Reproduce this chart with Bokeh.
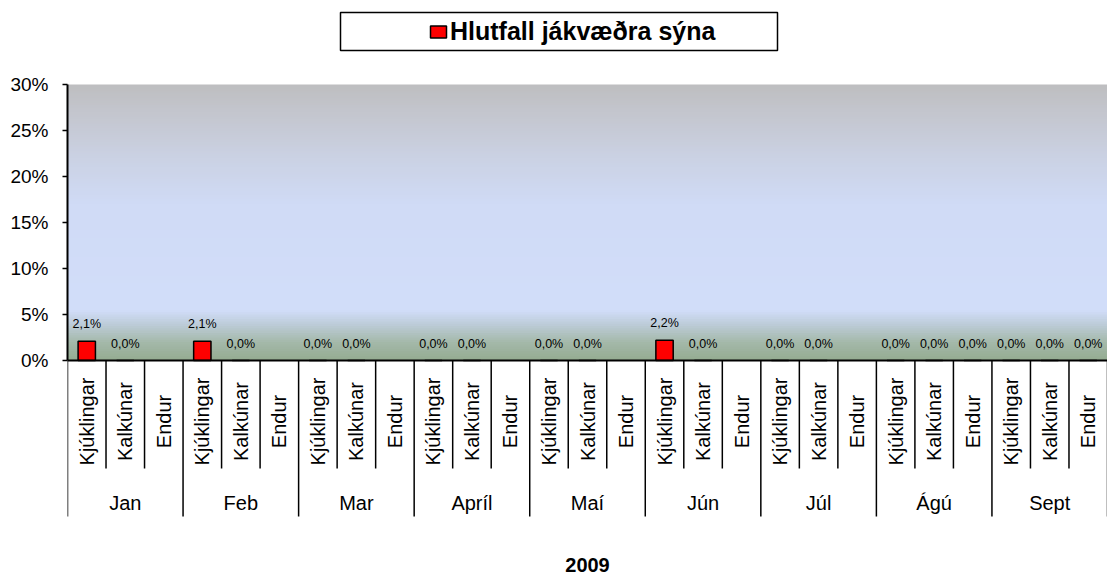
import numpy as np
from bokeh.plotting import figure
from bokeh.models import (ColumnDataSource, FixedTicker, NumeralTickFormatter,
                          Legend, LegendItem, Range1d)
from bokeh.core.properties import value
from bokeh.embed import file_html
from bokeh.resources import INLINE

# ---------------- data ----------------
months = ["Jan", "Feb", "Mar", "Apríl", "Maí", "Jún", "Júl", "Ágú", "Sept"]
animals = ["Kjúklingar", "Kalkúnar", "Endur"]
kjuklingar = [0.021, 0.021, 0.0, 0.0, 0.0, 0.022, 0.0, 0.0, 0.0]
kalkunar = [0.0, 0.0, 0.0, 0.0, 0.0, 0.0, 0.0, 0.0, 0.0]
endur = [None, None, None, None, None, None, None, 0.0, 0.0]
y_ticks = [0.0, 0.05, 0.10, 0.15, 0.20, 0.25, 0.30]
series_label = "Hlutfall jákvæðra sýna"
year_label = "2009"

FONT = "Liberation Sans"

# ---------------- layout helpers (pixel layout of reference) ----------------
W, H = 1107, 579
LEFT = 67
PX_PER_UNIT = 920.0
ZERO_FIG_Y = 360.0
n_cat = len(months) * len(animals)
cat_px = (W - LEFT) / n_cat


def py(img_y):
    """image pixel y -> data y (layout only)"""
    return (ZERO_FIG_Y - img_y) / PX_PER_UNIT


def px(img_x):
    return (img_x - LEFT) / cat_px


y_top = ZERO_FIG_Y / PX_PER_UNIT
y_bot = (ZERO_FIG_Y - H) / PX_PER_UNIT

p = figure(width=W, height=H, output_backend="svg", toolbar_location=None,
           x_range=Range1d(0, n_cat), y_range=Range1d(y_bot, y_top),
           x_axis_location=None, min_border_left=LEFT, min_border_right=0,
           min_border_top=0, min_border_bottom=0)
p.outline_line_color = None
p.xgrid.visible = False
p.ygrid.visible = False
p.background_fill_color = "white"
p.border_fill_color = "white"

# ---------------- background gradient (0..30%) ----------------
stops_v = [0.0, 0.02, 0.04, 0.055, 0.17, 0.22, 0.27, 0.30]
stops_c = [(148, 172, 145), (165, 185, 170), (190, 205, 218), (210, 222, 250),
           (208, 219, 246), (203, 210, 228), (196, 198, 206), (190, 190, 192)]
n_strip = 120
edges = np.linspace(0, y_ticks[-1], n_strip + 1)
mids = (edges[:-1] + edges[1:]) / 2
cols = []
for m in mids:
    r = np.interp(m, stops_v, [c[0] for c in stops_c])
    g = np.interp(m, stops_v, [c[1] for c in stops_c])
    b = np.interp(m, stops_v, [c[2] for c in stops_c])
    cols.append("#%02x%02x%02x" % (int(r), int(g), int(b)))
step = edges[1] - edges[0]
tops = np.minimum(edges[1:] + step * 0.6, y_ticks[-1])
p.quad(left=0, right=n_cat, bottom=edges[:-1], top=tops, fill_color=cols,
       line_color=None)

# ---------------- data table ----------------
xs, vals, cats = [], [], []
for mi, m in enumerate(months):
    for ai, a in enumerate(animals):
        series = [kjuklingar, kalkunar, endur][ai]
        xs.append(mi * len(animals) + ai + 0.5)
        v = series[mi]
        vals.append(np.nan if v is None else v)
        cats.append(a)

src = ColumnDataSource(dict(x=xs, top=vals))
bars = p.vbar(x="x", top="top", bottom=0, width=0.45, source=src,
              fill_color="#ff0000", line_color="black", line_width=1.5)

# data labels
lx, ly, lt = [], [], []
for x, v in zip(xs, vals):
    if not np.isnan(v):
        lx.append(x)
        ly.append(v)
        lt.append(("%.1f%%" % (v * 100)).replace(".", ","))
p.text(x=lx, y=ly, text=lt, text_font=value(FONT), text_font_size="12.5px",
       text_align="center", text_baseline="middle", y_offset=-17,
       text_color="black")

# x axis line
p.segment(x0=[0], y0=[0], x1=[n_cat], y1=[0], line_color="black", line_width=2)

# separators below axis
inner_x = [i for i in range(1, n_cat) if i % len(animals) != 0]
month_x = [i for i in range(0, n_cat + 1, len(animals))]
p.segment(x0=inner_x, y0=[0] * len(inner_x), x1=inner_x,
          y1=[py(468)] * len(inner_x), line_color="black", line_width=1.5)
p.segment(x0=month_x, y0=[0] * len(month_x), x1=month_x,
          y1=[py(516)] * len(month_x), line_color="black", line_width=1.5)

# category labels (rotated)
p.text(x=xs, y=[py(421)] * len(xs), text=cats, angle=np.pi / 2,
       text_font=value(FONT), text_font_size="20px", text_align="center",
       text_baseline="middle", text_color="black")

# month labels
mx = [mi * len(animals) + len(animals) / 2 for mi in range(len(months))]
p.text(x=mx, y=[py(502)] * len(mx), text=months, text_font=value(FONT),
       text_font_size="20px", text_align="center", text_baseline="middle",
       text_color="black")

# year label
p.text(x=[n_cat / 2], y=[py(564)], text=[year_label], text_font=value(FONT),
       text_font_size="20px", text_font_style="bold", text_align="center",
       text_baseline="middle", text_color="black")

# legend box
p.quad(left=[px(340)], right=[px(777)], top=[py(12)], bottom=[py(50)],
       fill_color="white", line_color="black", line_width=1.5)

legend = Legend(items=[LegendItem(label=series_label, renderers=[bars])],
                location=(361, 533), padding=0, margin=0, spacing=0,
                glyph_width=20, glyph_height=15, label_standoff=2,
                label_text_font=FONT, label_text_font_size="25px",
                label_text_font_style="bold", label_text_color="black",
                background_fill_alpha=0, border_line_alpha=0)
p.add_layout(legend, "center")

# y axis
ax = p.yaxis[0]
ax.ticker = FixedTicker(ticks=y_ticks)
ax.formatter = NumeralTickFormatter(format="0%")
ax.bounds = (y_ticks[0], y_ticks[-1])
ax.axis_line_width = 2
ax.axis_line_color = "black"
ax.major_tick_line_width = 1.5
ax.major_tick_line_color = "black"
ax.major_tick_out = 5
ax.major_tick_in = 0
ax.minor_tick_line_color = None
ax.major_label_standoff = 14
ax.major_label_text_font = FONT
ax.major_label_text_font_size = "19px"
ax.major_label_text_color = "black"

open("out.html", "w").write(file_html(p, INLINE))
